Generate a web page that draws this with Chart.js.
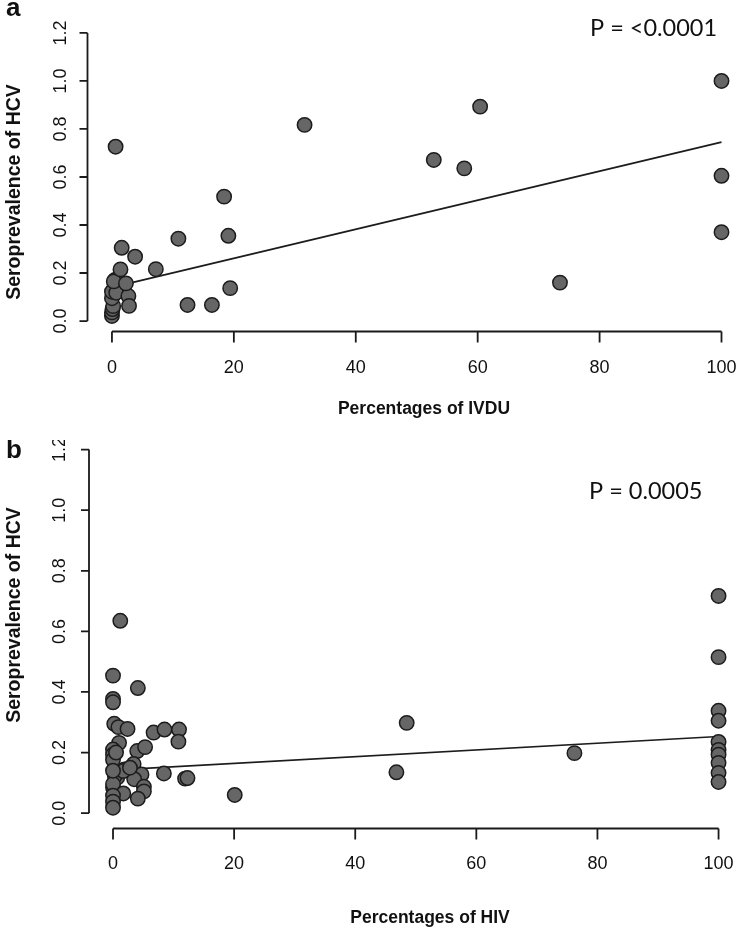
<!DOCTYPE html>
<html>
<head>
<meta charset="utf-8">
<script src="https://cdn.jsdelivr.net/npm/chart.js@4.4.1/dist/chart.umd.min.js"></script>
<style>
  body { margin: 0; background: #fff; width: 743px; height: 931px; position: relative; overflow: hidden; }
  canvas { position: absolute; left: 0; }
</style>
</head>
<body>
<canvas id="chartA" width="743" height="440" style="top:0"></canvas>
<canvas id="chartB" width="743" height="491" style="top:440px"></canvas>
<script>
// panel a: HCV seroprevalence against % IVDU
let ivduX = [0, 0, 0.1, 0.2, 0, 0, 0.7, 0.5, 0.3, 2.7, 2.8, 2.3, 1.4, 1.6, 3.8, 7.2, 0.6,
  10.9, 18.4, 19.1, 19.4, 12.4, 16.4, 31.6, 52.8, 57.8, 60.4, 73.5, 100, 100, 100]
let hcvA = [0.021, 0.036, 0.05, 0.062, 0.095, 0.122, 0.118, 0.171, 0.165, 0.104, 0.063, 0.157, 0.215, 0.305, 0.268, 0.216, 0.726,
  0.343, 0.518, 0.355, 0.137, 0.067, 0.067, 0.817, 0.671, 0.636, 0.893, 0.16, 1.0, 0.605, 0.37]
let fitXA = [0, 100]
let fitYA = [0.14, 0.745]

// panel b: HCV seroprevalence against % HIV
let hivX = [1.2, 0, 4.1, 0, 0, 0.2, 0.9, 2.4, 6.7, 8.5, 10.9, 10.8, 1.0, 0, 4.0, 5.3, 0, 0, 3.4, 1.9,
  4.7, 8.4, 11.9, 12.3, 0.7, 3.5, 0.3, 1.7, 5.1, 0, 0, 1.7, 5.1, 4.1, 0, 0, 0, 2.8, 0.5, 0,
  20.1, 46.8, 48.5, 76.2, 100, 100, 100, 100, 100, 100, 100, 100, 100, 100]
let hcvB = [0.635, 0.454, 0.413, 0.377, 0.366, 0.295, 0.284, 0.278, 0.266, 0.276, 0.276, 0.236, 0.232, 0.21, 0.205, 0.218, 0.193, 0.176, 0.162, 0.144,
  0.128, 0.131, 0.114, 0.116, 0.117, 0.112, 0.123, 0.139, 0.087, 0.085, 0.096, 0.065, 0.072, 0.048, 0.058, 0.038, 0.018, 0.15, 0.2, 0.14,
  0.06, 0.135, 0.298, 0.198, 0.717, 0.515, 0.338, 0.305, 0.235, 0.209, 0.193, 0.166, 0.133, 0.103]
let fitXB = [0, 100]
let fitYB = [0.142, 0.253]

let xTickVals = [0, 20, 40, 60, 80, 100]
let yTickVals = [0, 0.2, 0.4, 0.6, 0.8, 1.0, 1.2]
let yTickLabels = ['0.0', '0.2', '0.4', '0.6', '0.8', '1.0', '1.2']

const helv = '"Liberation Sans", Arial, sans-serif'

// R style axes: detached lines, outward ticks, rotated y labels
const rAxes = {
  id: 'rAxes',
  afterDraw(chart, args, o) {
    const { ctx } = chart
    const sx = chart.scales.x, sy = chart.scales.y
    ctx.save()
    ctx.strokeStyle = '#1a1a1a'
    ctx.fillStyle = '#111'
    ctx.lineWidth = 1.8

    let xa = sx.getPixelForValue(xTickVals[0]), xb = sx.getPixelForValue(xTickVals[xTickVals.length - 1])
    ctx.beginPath()
    ctx.moveTo(xa, o.xLineY); ctx.lineTo(xb, o.xLineY)
    xTickVals.forEach(v => {
      let p = sx.getPixelForValue(v)
      ctx.moveTo(p, o.xLineY); ctx.lineTo(p, o.xLineY + o.xTickLen)
    })
    let ya = sy.getPixelForValue(yTickVals[0]), yb = sy.getPixelForValue(yTickVals[yTickVals.length - 1])
    ctx.moveTo(o.yLineX, ya); ctx.lineTo(o.yLineX, yb)
    yTickVals.forEach(v => {
      let p = sy.getPixelForValue(v)
      ctx.moveTo(o.yLineX, p); ctx.lineTo(o.yLineX - 8, p)
    })
    ctx.stroke()

    ctx.font = '18px ' + helv
    ctx.textAlign = 'center'
    ctx.textBaseline = 'alphabetic'
    xTickVals.forEach(v => ctx.fillText(String(v), sx.getPixelForValue(v), o.xLabelY))
    yTickVals.forEach((v, i) => {
      ctx.save()
      ctx.translate(o.yLabelX, sy.getPixelForValue(v))
      ctx.rotate(-Math.PI / 2)
      ctx.fillText(yTickLabels[i], 0, 0)
      ctx.restore()
    })

    ctx.font = 'bold 17.5px ' + helv
    ctx.fillText(o.xTitle, o.xTitleX, o.xTitleY)
    ctx.save()
    ctx.translate(20, o.yTitleY)
    ctx.rotate(-Math.PI / 2)
    ctx.font = 'bold 19.5px ' + helv
    ctx.fillText(o.yTitle, 0, 0)
    ctx.restore()

    ctx.textAlign = 'left'
    ctx.font = 'bold 26px ' + helv
    ctx.fillText(o.letter, 6, o.letterY)
    ctx.font = '23.5px Lato, "Open Sans", sans-serif'
    ctx.fillText(o.pText, o.pX, o.pY)
    ctx.restore()
  }
}

let makeChart = (id, xs, ys, fx, fy, opts) => {
  const ctx = document.getElementById(id).getContext('2d')
  return new Chart(ctx, {
    type: 'scatter',
    data: {
      datasets: [{
        data: xs.map((v, i) => ({ x: v, y: ys[i] })),
        pointRadius: 7.2,
        pointHoverRadius: 7.2,
        backgroundColor: '#666666',
        borderColor: '#1c1c1c',
        borderWidth: 1.5,
        clip: false,
        order: 0
      }, {
        type: 'line',
        data: fx.map((v, i) => ({ x: v, y: fy[i] })),
        borderColor: '#1c1c1c',
        borderWidth: 1.7,
        pointRadius: 0,
        fill: false,
        order: 1
      }]
    },
    options: {
      responsive: false,
      animation: false,
      devicePixelRatio: 1,
      layout: { padding: opts.padding },
      scales: {
        x: { type: 'linear', display: false, min: opts.xMin, max: opts.xMax },
        y: { type: 'linear', display: false, min: opts.yMin, max: opts.yMax }
      },
      plugins: { legend: { display: false }, tooltip: { enabled: false }, rAxes: opts.axes }
    },
    plugins: [rAxes]
  })
}

makeChart('chartA', ivduX, hcvA, fitXA, fitYA, {
  padding: { left: 90, right: 8, top: 25, bottom: 112 },
  xMin: -3.6, xMax: 102.1, yMin: -0.029, yMax: 1.233,
  axes: {
    xLineY: 331.5, xTickLen: 11, xLabelY: 373, yLineX: 87.5, yLabelX: 66,
    xTitle: 'Percentages of IVDU', xTitleX: 424, xTitleY: 414,
    yTitle: 'Seroprevalence of HCV', yTitleY: 192,
    letter: 'a', letterY: 16, pText: 'P = <0.0001', pX: 590, pY: 36
  }
})

makeChart('chartB', hivX, hcvB, fitXB, fitYB, {
  padding: { left: 92, right: 8, top: 0, bottom: 111 },
  xMin: -3.47, xMax: 102.6, yMin: -0.0226, yMax: 1.203,
  axes: {
    xLineY: 388.5, xTickLen: 11, xLabelY: 429, yLineX: 89, yLabelX: 65,
    xTitle: 'Percentages of HIV', xTitleX: 430, xTitleY: 483,
    yTitle: 'Seroprevalence of HCV', yTitleY: 175,
    letter: 'b', letterY: 18, pText: 'P = 0.0005', pX: 589, pY: 59
  }
})
</script>
</body>
</html>
